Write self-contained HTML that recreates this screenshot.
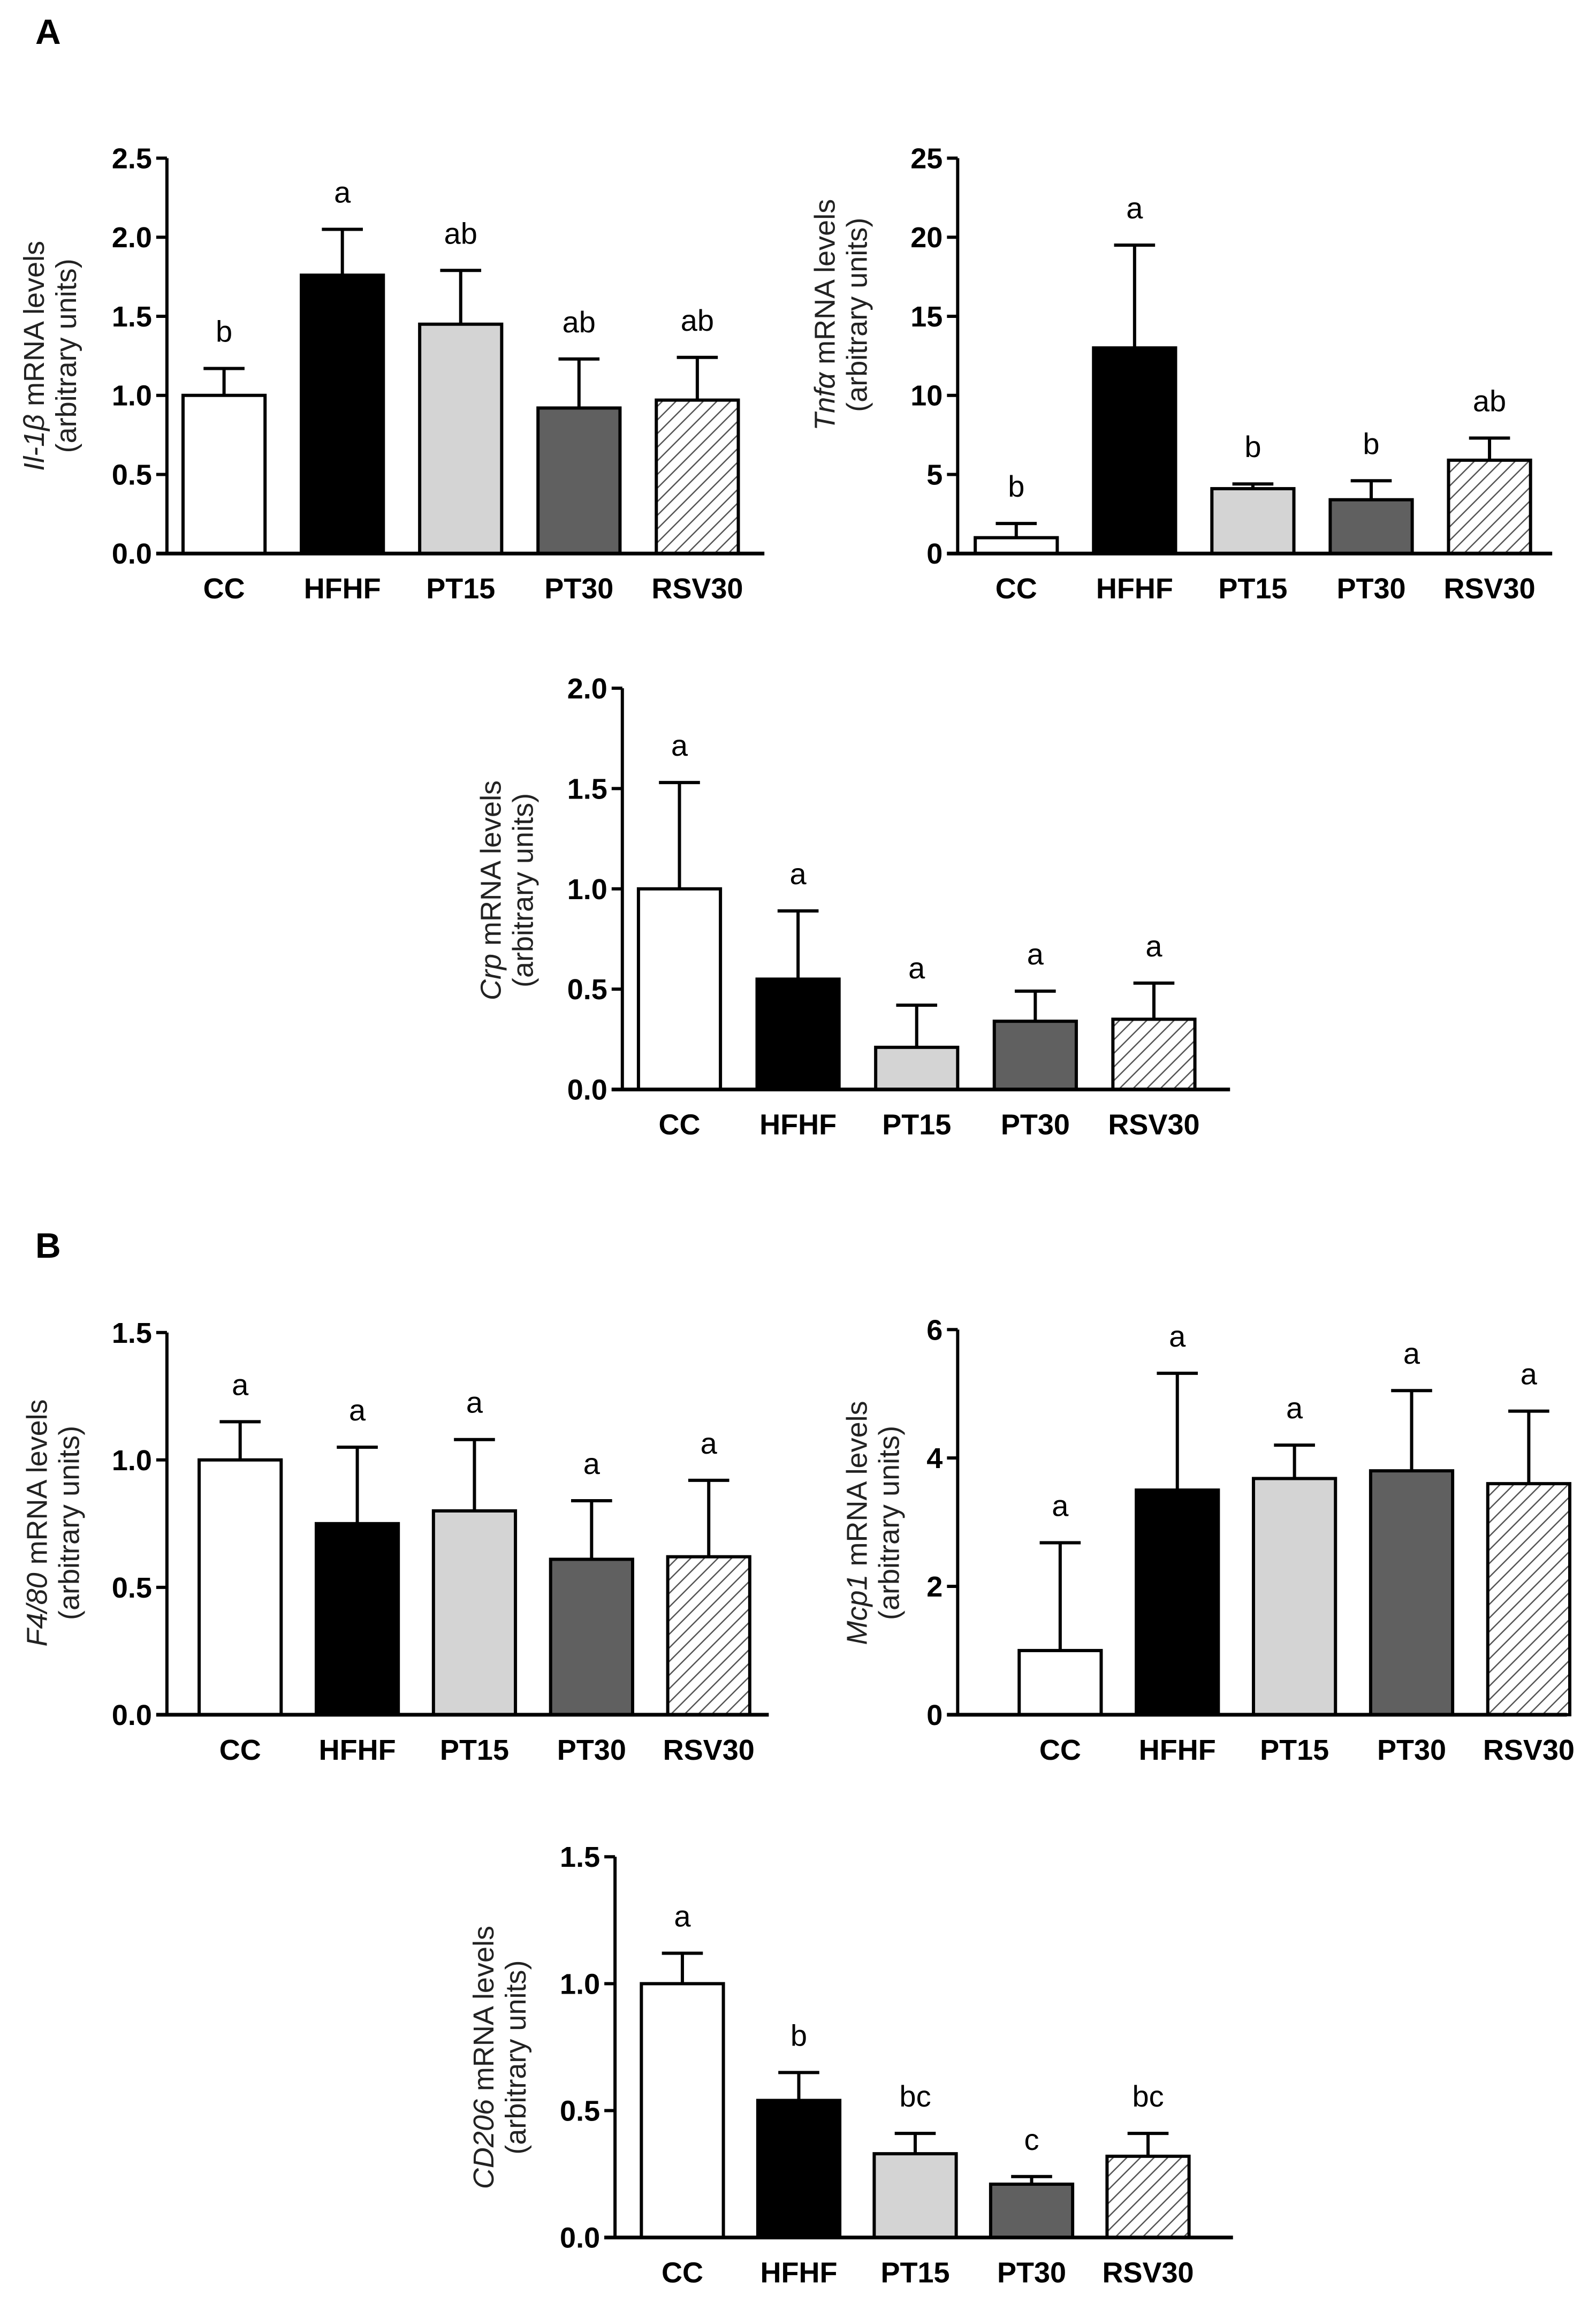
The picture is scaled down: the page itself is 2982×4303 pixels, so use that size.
<!DOCTYPE html>
<html><head><meta charset="utf-8">
<style>
html,body{margin:0;padding:0;background:#fff;}
svg{display:block;}
text{font-family:"Liberation Sans Narrow","Liberation Sans",sans-serif;}
</style></head>
<body>
<svg id="fig" width="2982" height="4303" viewBox="0 0 2982 4303" xmlns="http://www.w3.org/2000/svg">
<defs>
<pattern id="hatch" patternUnits="userSpaceOnUse" width="18" height="18" patternTransform="rotate(45)">
<rect width="18" height="18" fill="#fff"/>
<line x1="0" y1="0" x2="0" y2="18" stroke="#555" stroke-width="5"/>
</pattern>
</defs>
<text x="66" y="82" font-size="66" font-weight="bold" font-family="Liberation Sans, sans-serif">A</text>
<text x="66" y="2350" font-size="66" font-weight="bold" font-family="Liberation Sans, sans-serif">B</text>
</svg>
<script>
const categories = ["CC","HFHF","PT15","PT30","RSV30"];
const il1bMeans = [1.0,1.76,1.45,0.92,0.97];
const il1bErr = [1.17,2.05,1.79,1.23,1.24];
const il1bLetters = ["b","a","ab","ab","ab"];
const il1bTicks = [0,0.5,1.0,1.5,2.0,2.5];
const tnfMeans = [1.0,13.0,4.1,3.4,5.9];
const tnfErr = [1.9,19.5,4.4,4.6,7.3];
const tnfLetters = ["b","a","b","b","ab"];
const tnfTicks = [0,5,10,15,20,25];
const crpMeans = [1.0,0.55,0.21,0.34,0.35];
const crpErr = [1.53,0.89,0.42,0.49,0.53];
const crpLetters = ["a","a","a","a","a"];
const crpTicks = [0,0.5,1.0,1.5,2.0];
const f480Means = [1.0,0.75,0.80,0.61,0.62];
const f480Err = [1.15,1.05,1.08,0.84,0.92];
const f480Letters = ["a","a","a","a","a"];
const f480Ticks = [0,0.5,1.0,1.5];
const mcpMeans = [1.0,3.5,3.68,3.8,3.6];
const mcpErr = [2.68,5.32,4.2,5.05,4.73];
const mcpLetters = ["a","a","a","a","a"];
const mcpTicks = [0,2,4,6];
const cdMeans = [1.0,0.54,0.33,0.21,0.32];
const cdErr = [1.12,0.65,0.41,0.24,0.41];
const cdLetters = ["a","b","bc","c","bc"];
const cdTicks = [0,0.5,1.0,1.5];

const S = 2.736;
const fills = ["#ffffff","#000000","#d4d4d4","#606060","url(#hatch)"];
const NS = "http://www.w3.org/2000/svg";
const svg = document.getElementById('fig');
function mk(tag, attrs, parent){const e=document.createElementNS(NS,tag);for(const k in attrs)e.setAttribute(k,attrs[k]);(parent||svg).appendChild(e);return e;}

function chart(cfg){
  const g = mk('g',{});
  
  
  const ax=cfg.ax*S, top=cfg.top*S, bot=cfg.bot*S, xEnd=cfg.xEnd*S;
  const maxV = cfg.ticks[cfg.ticks.length-1];
  const y = v => bot - (v/maxV)*(bot-top);
  const bw = 56*S;
  const x = i => (cfg.c0 + i*cfg.step)*S;
  cfg.means.forEach((m,i)=>{
    const cx=x(i);
    const ey=y(cfg.err[i]);
    const el=mk('line',{x1:cx,x2:cx,y1:y(m),y2:ey,stroke:'#000','stroke-width':6},g);
    
    
    const cap=mk('line',{x1:cx-bw*0.25,x2:cx+bw*0.25,y1:ey,y2:ey,stroke:'#000','stroke-width':6},g);
    
    
    const r=mk('rect',{x:cx-bw/2,y:y(m),width:bw,height:bot-y(m),fill:fills[i],stroke:'#000','stroke-width':6},g);
    
    
    const t=mk('text',{x:cx,y:ey-50,'text-anchor':'middle','font-size':56},g);
    t.textContent=cfg.letters[i];
    
    
    const lb=mk('text',{x:cx,y:bot+84,'text-anchor':'middle','font-size':54,'font-weight':'bold'},g);
    lb.textContent=categories[i];
    
    
  });
  const ya=mk('line',{x1:ax,x2:ax,y1:top,y2:bot+3,stroke:'#000','stroke-width':6},g);
  
  
  const xa=mk('line',{x1:ax-20,x2:xEnd,y1:bot,y2:bot,stroke:'#000','stroke-width':7},g);
  
  
  cfg.ticks.forEach(v=>{
    const tk=mk('line',{x1:ax-20,x2:ax,y1:y(v),y2:y(v),stroke:'#000','stroke-width':6},g);
    
    
    const tl=mk('text',{x:ax-28,y:y(v)+19,'text-anchor':'end','font-size':54,'font-weight':'bold'},g);
    tl.textContent = cfg.dec ? v.toFixed(1) : String(v);
    
    
  });
  const tx=cfg.tx*S, ty=cfg.ty*S;
  const tt=mk('text',{transform:`translate(${tx},${ty}) rotate(-90)`,'text-anchor':'middle','font-size':54,'font-family':'Liberation Sans, sans-serif',fill:'#222'},g);
  
  
  const it=mk('tspan',{'font-style':'italic'},tt); it.textContent=cfg.gene;
  const rest=mk('tspan',{},tt); rest.textContent=' mRNA levels';
  const t2=mk('text',{transform:`translate(${tx+60},${ty}) rotate(-90)`,'text-anchor':'middle','font-size':54,'font-family':'Liberation Sans, sans-serif',fill:'#222'},g);
  t2.textContent='(arbitrary units)';
  
  
}

chart({name:'il1b-chart',gene:'Il-1β',means:il1bMeans,err:il1bErr,letters:il1bLetters,ticks:il1bTicks,dec:true,ax:114,top:108,bot:378,xEnd:522,c0:153,step:80.8,tx:30,ty:243});
chart({name:'tnfa-chart',gene:'Tnfα',means:tnfMeans,err:tnfErr,letters:tnfLetters,ticks:tnfTicks,dec:false,ax:654,top:108,bot:378,xEnd:1060,c0:694,step:80.8,tx:570,ty:215});
chart({name:'crp-chart',gene:'Crp',means:crpMeans,err:crpErr,letters:crpLetters,ticks:crpTicks,dec:true,ax:425,top:470,bot:744,xEnd:840,c0:464,step:81,tx:342,ty:608});
chart({name:'f480-chart',gene:'F4/80',means:f480Means,err:f480Err,letters:f480Letters,ticks:f480Ticks,dec:true,ax:114,top:910,bot:1171,xEnd:525,c0:164,step:80,tx:32,ty:1040});
chart({name:'mcp1-chart',gene:'Mcp1',means:mcpMeans,err:mcpErr,letters:mcpLetters,ticks:mcpTicks,dec:false,ax:654,top:908,bot:1171,xEnd:1070,c0:724,step:80,tx:592,ty:1040});
chart({name:'cd206-chart',gene:'CD206',means:cdMeans,err:cdErr,letters:cdLetters,ticks:cdTicks,dec:true,ax:420,top:1268,bot:1528,xEnd:842,c0:466,step:79.5,tx:337,ty:1405});
</script>
</body></html>
